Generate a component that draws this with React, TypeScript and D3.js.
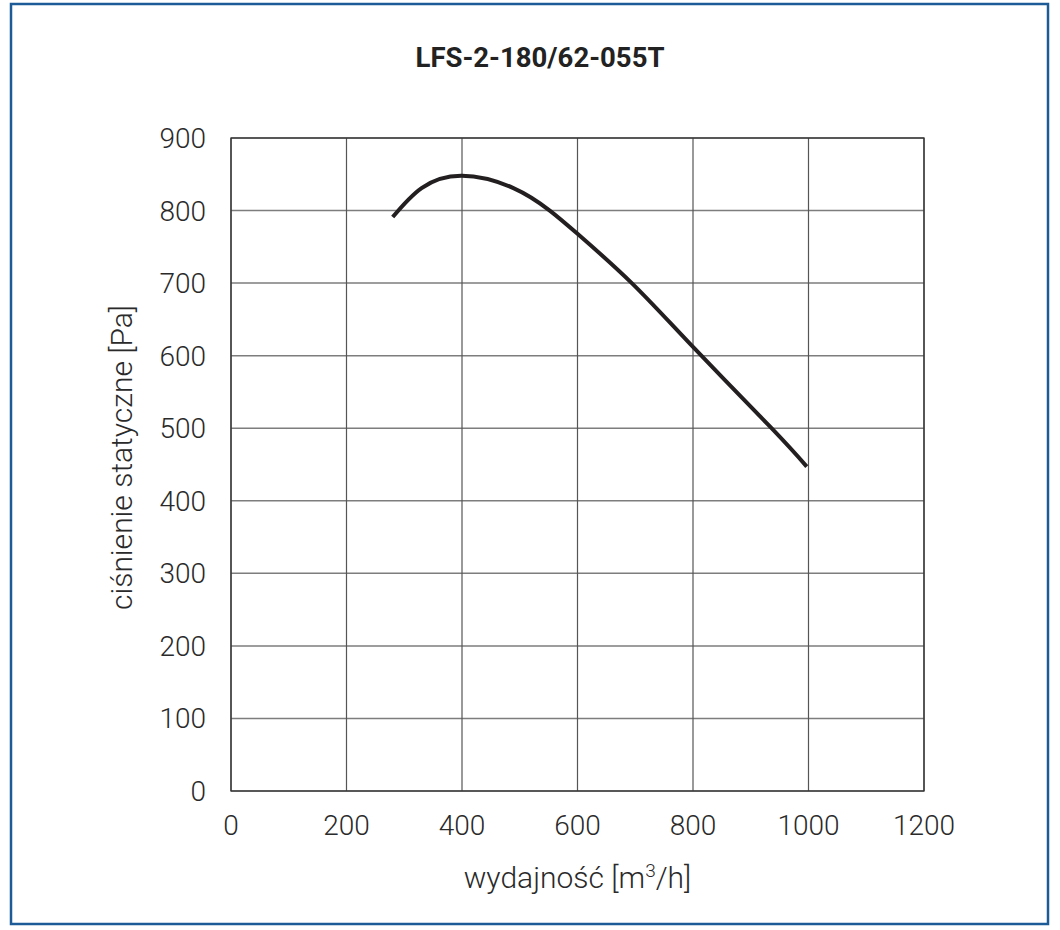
import { useEffect, useRef } from "react";
import * as d3 from "d3";

const TITLE = "LFS-2-180/62-055T";
const X_TICKS = [0, 200, 400, 600, 800, 1000, 1200];
const Y_TICKS = [0, 100, 200, 300, 400, 500, 600, 700, 800, 900];
// fan curve: airflow [m3/h] vs static pressure [Pa]
const FLOW = [280, 330, 400, 489, 552, 600, 694, 800, 936, 997];
const PRESSURE = [791, 831, 848, 831, 800, 768, 700, 612, 500, 447];

const W = 1060, H = 930;
const M = { left: 231, right: 924, top: 138, bottom: 791 };
const FONT = "Roboto, 'DejaVu Sans', sans-serif";

export default function App() {
  const ref = useRef<SVGSVGElement>(null);
  useEffect(() => {
    const el = ref.current;
    if (!el) return;
    const svg = d3.select(el);
    svg.selectAll("*").remove();

    svg.append("rect").attr("x", 0).attr("y", 0).attr("width", W).attr("height", H).attr("fill", "#fff");
    // outer blue frame
    svg.append("rect").attr("x", 11).attr("y", 4).attr("width", 1037).attr("height", 920)
      .attr("fill", "none").attr("stroke", "#1d5b98").attr("stroke-width", 2.5);

    const x = d3.scaleLinear().domain([0, 1200]).range([M.left, M.right]);
    const y = d3.scaleLinear().domain([0, 900]).range([M.bottom, M.top]);

    // grid
    Y_TICKS.forEach((t) => {
      svg.append("line").attr("x1", M.left).attr("x2", M.right).attr("y1", y(t)).attr("y2", y(t))
        .attr("stroke", "#7d7d7d").attr("stroke-width", 1.5);
    });
    X_TICKS.forEach((t) => {
      svg.append("line").attr("x1", x(t)).attr("x2", x(t)).attr("y1", M.top).attr("y2", M.bottom)
        .attr("stroke", "#555").attr("stroke-width", 1.2);
    });
    svg.append("rect").attr("x", M.left).attr("y", M.top).attr("width", M.right - M.left).attr("height", M.bottom - M.top)
      .attr("fill", "none").attr("stroke", "#333").attr("stroke-width", 1.3);

    // tick labels
    Y_TICKS.forEach((t) => {
      svg.append("text").attr("x", 206).attr("y", y(t) + 10).attr("text-anchor", "end")
        .attr("font-family", FONT).attr("font-weight", 300).attr("font-size", 28).attr("fill", "#2a2a2a").text(t);
    });
    X_TICKS.forEach((t) => {
      svg.append("text").attr("x", x(t)).attr("y", 835).attr("text-anchor", "middle")
        .attr("font-family", FONT).attr("font-weight", 300).attr("font-size", 28).attr("fill", "#2a2a2a").text(t);
    });

    // axis titles
    const xl = svg.append("text").attr("x", (M.left + M.right) / 2).attr("y", 888).attr("text-anchor", "middle")
      .attr("font-family", FONT).attr("font-weight", 300).attr("font-size", 30).attr("fill", "#2a2a2a");
    xl.append("tspan").text("wydajność [m");
    xl.append("tspan").attr("font-size", 19).attr("dy", -11).text("3");
    xl.append("tspan").attr("dy", 11).text("/h]");

    svg.append("text").attr("transform", `translate(132,${(M.top + M.bottom) / 2 - 7}) rotate(-90)`)
      .attr("text-anchor", "middle").attr("font-family", FONT).attr("font-weight", 300).attr("font-size", 30)
      .attr("fill", "#2a2a2a").text("ciśnienie statyczne [Pa]");

    // title
    svg.append("text").attr("x", 540).attr("y", 67).attr("text-anchor", "middle")
      .attr("font-family", FONT).attr("font-weight", 700).attr("font-size", 27).attr("fill", "#222")
      .attr("textLength", 249).attr("lengthAdjust", "spacingAndGlyphs").text(TITLE);

    // curve
    const pts = FLOW.map((f, i) => [f, PRESSURE[i]] as [number, number]);
    const line = d3.line<[number, number]>().x((d) => x(d[0])).y((d) => y(d[1])).curve(d3.curveNatural);
    svg.append("path").attr("d", line(pts)).attr("fill", "none").attr("stroke", "#231f20").attr("stroke-width", 4)
      .attr("stroke-linejoin", "round");
  }, []);
  return (
    <svg ref={ref} width={W} height={H} viewBox={`0 0 ${W} ${H}`}
      style={{ position: "absolute", left: 0, top: 0 }} />
  );
}
